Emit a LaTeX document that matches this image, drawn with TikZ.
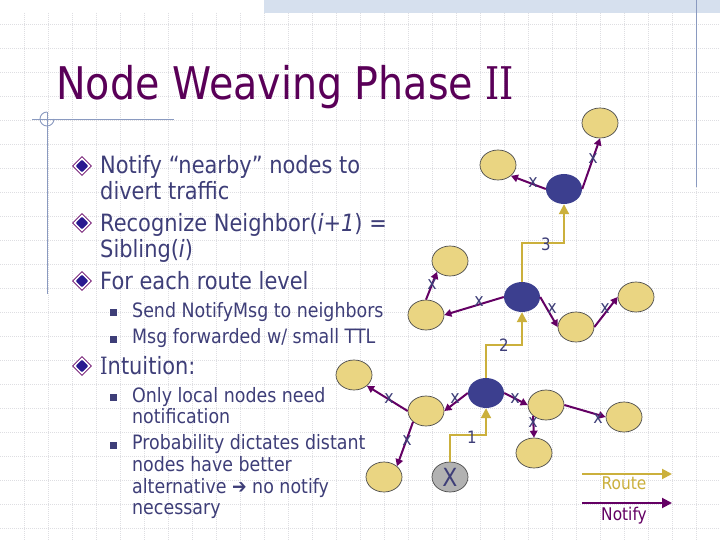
\documentclass[tikz,border=0pt]{standalone}
\usepackage{fontspec}
\setmainfont[FakeStretch=0.88]{DejaVu Sans}
\newfontfamily\serifI[FakeStretch=0.8]{DejaVu Serif}
\usetikzlibrary{arrows.meta,shapes.geometric}
\definecolor{inkc}{HTML}{3E3E78}
\definecolor{titlec}{HTML}{5A0058}
\definecolor{routec}{HTML}{CBB03C}
\definecolor{notifyc}{HTML}{640064}
\definecolor{nodey}{HTML}{EAD582}
\definecolor{noded}{HTML}{3C3F8F}
\definecolor{frame}{HTML}{8A9AC0}
\definecolor{bandc}{HTML}{D6E0EE}
\definecolor{bulc}{HTML}{2A1A90}
\definecolor{gridc}{HTML}{DEDEE2}
\tikzset{
 body/.style={anchor=base west,inner sep=0pt,text=inkc,font=\fontsize{23.8}{23.8}\selectfont},
 sub/.style={anchor=base west,inner sep=0pt,text=inkc,font=\fontsize{19.8}{19.8}\selectfont},
 yn/.style={ellipse,draw=black!70,line width=.7pt,fill=nodey,minimum width=36pt,minimum height=30pt,inner sep=0pt},
 dn/.style={ellipse,fill=noded,minimum width=36pt,minimum height=30pt,inner sep=0pt},
 gn/.style={ellipse,draw=black!70,line width=.7pt,fill=black!30,minimum width=36pt,minimum height=30pt,inner sep=0pt,text=inkc,font=\fontsize{25}{25}\selectfont},
 route/.style={draw=routec,line width=2pt,-{Triangle[length=10pt,width=10pt,fill=routec]}},
 notify/.style={draw=notifyc,line width=2pt,-{Triangle[length=7pt,width=7.5pt,fill=notifyc]}},
 xm/.style={inner sep=0pt,text=inkc,font=\fontsize{18}{18}\selectfont},
 num/.style={inner sep=0pt,text=inkc,font=\fontsize{17}{17}\selectfont},
 dbul/.style={diamond,draw=notifyc,fill=white,line width=.6pt,minimum width=19pt,minimum height=19pt,inner sep=0pt},
 dcore/.style={diamond,fill=bulc,minimum width=13pt,minimum height=13pt,inner sep=0pt,rounded corners=1pt},
 sbul/.style={rectangle,fill=inkc,minimum width=7pt,minimum height=7pt,inner sep=0pt},
 griddots/.style={draw=gridc,line width=.9pt,dash pattern=on 1pt off 1pt},
 rule/.style={draw=frame,line width=.9pt},
}
\begin{document}
\begin{tikzpicture}[x=1pt,y=-1pt]
\useasboundingbox (0,0) rectangle (720,540);
\fill[white] (0,0) rectangle (720,540);
% background grid
\foreach \g in {24,48,...,696} \draw[griddots] (\g,13) -- (\g,540);
\foreach \g in {24,48,...,528} \draw[griddots] (0,\g) -- (720,\g);
\fill[bandc] (264,0) rectangle (720,13);
% frame rules
\draw[rule] (32,119) -- (174,119);
\draw[rule] (47,112) -- (47,294);
\draw[rule] (47,112) arc[start angle=270,end angle=0,radius=7];
\draw[rule] (696,0) -- (696,187);
% title
\node[anchor=base west,inner sep=0pt,text=titlec,font=\fontsize{45}{45}\selectfont] (title) at (56,100) {Node Weaving Phase {\serifI II}};
% text
\foreach \n/\yy in {b1/166,b2/223,b3/281,b4/366}{
 \node[dbul] (\n) at (82,\yy) {};
 \node[dcore] (\n c) at (82,\yy) {};
}
\foreach \n/\yy in {s1/312,s2/339,s3/397,s4/445}{
 \node[sbul] (\n) at (113,\yy) {};
}
\node[body] (t1) at (100,174) {Notify “nearby” nodes to};
\node[body] (t2) at (100,200) {divert traffic};
\node[body] (t3) at (100,232) {Recognize Neighbor(\textit{i+1}) =};
\node[body] (t4) at (100,258) {Sibling(\textit{i})};
\node[body] (t5) at (100,289) {For each route level};
\node[sub] (t6) at (132,317) {Send NotifyMsg to neighbors};
\node[sub] (t7) at (132,343) {Msg forwarded w/ small TTL};
\node[body] (t8) at (100,374) {{\serifI I}ntuition:};
\node[sub] (t9) at (132,402) {Only local nodes need};
\node[sub] (t10) at (132,423) {notification};
\node[sub] (t11) at (132,449) {Probability dictates distant};
\node[sub] (t12) at (132,471) {nodes have better};
\node[sub] (t13) at (132,493) {alternative ➔ no notify};
\node[sub] (t14) at (132,514) {necessary};
% nodes
\node[yn] (top) at (600,123) {};
\node[yn] (a) at (498,165) {};
\node[dn] (d1) at (564,189) {};
\node[yn] (e) at (450,261) {};
\node[yn] (f) at (426,315) {};
\node[dn] (d2) at (522,297) {};
\node[yn] (g) at (576,327) {};
\node[yn] (h) at (636,297) {};
\node[yn] (i) at (354,375) {};
\node[yn] (j) at (426,411) {};
\node[dn] (d3) at (486,393) {};
\node[yn] (k) at (546,405) {};
\node[yn] (l) at (624,417) {};
\node[yn] (m) at (534,453) {};
\node[yn] (n) at (384,477) {};
\node[gn] (xn) at (450,477) {X};
% route
\draw[route] (xn.north) -- ++(0,-27) -| (d3.south);
\draw[route] (d3.north) -- ++(0,-33) -| (d2.south);
\draw[route] (d2.north) -- ++(0,-39) -| (d1.south);
% notify
\draw[notify] (d1.east) -- (top.south);
\draw[notify] (d1.west) -- (a.-40);
\draw[notify] (f.north) -- (e.220);
\draw[notify] (d2.west) -- (f.east);
\draw[notify] (d2.east) -- (g.west);
\draw[notify] (g.east) -- (h.west);
\draw[notify] (d3.west) -- (j.east);
\draw[notify] (j.west) -- (i.-40);
\draw[notify] (j.220) -- (n.40);
\draw[notify] (d3.east) -- (k.west);
\draw[notify] (k.220) -- (m.north);
\draw[notify] (k.east) -- (l.west);
% x marks
\node[xm] (x1) at (593,159) {x};
\node[xm] (x2) at (533,183) {x};
\node[xm] (x3) at (432,285) {x};
\node[xm] (x4) at (479,302) {x};
\node[xm] (x5) at (552,309) {x};
\node[xm] (x6) at (605,309) {x};
\node[xm] (x7) at (389,399) {x};
\node[xm] (x8) at (455,399) {x};
\node[xm] (x9) at (515,399) {x};
\node[xm] (x10) at (533,423) {x};
\node[xm] (x11) at (598,419) {x};
\node[xm] (x12) at (407,441) {x};
% numbers
\node[num] (n3) at (546,244) {3};
\node[num] (n2) at (504,345) {2};
\node[num] (n1) at (472,437) {1};
% legend
\coordinate (ra) at (582,474);
\coordinate (rb) at (672,474);
\coordinate (na) at (582,503);
\coordinate (nb) at (672,503);
\draw[route] (ra) -- (rb);
\draw[notify,-{Triangle[length=10pt,width=10pt,fill=notifyc]}] (na) -- (nb);
\node[anchor=base,inner sep=0pt,text=routec,font=\fontsize{17.5}{17.5}\selectfont] (rl) at (624,489) {Route};
\node[anchor=base,inner sep=0pt,text=notifyc,font=\fontsize{17.5}{17.5}\selectfont] (nl) at (624,520) {Notify};
\end{tikzpicture}
\end{document}
